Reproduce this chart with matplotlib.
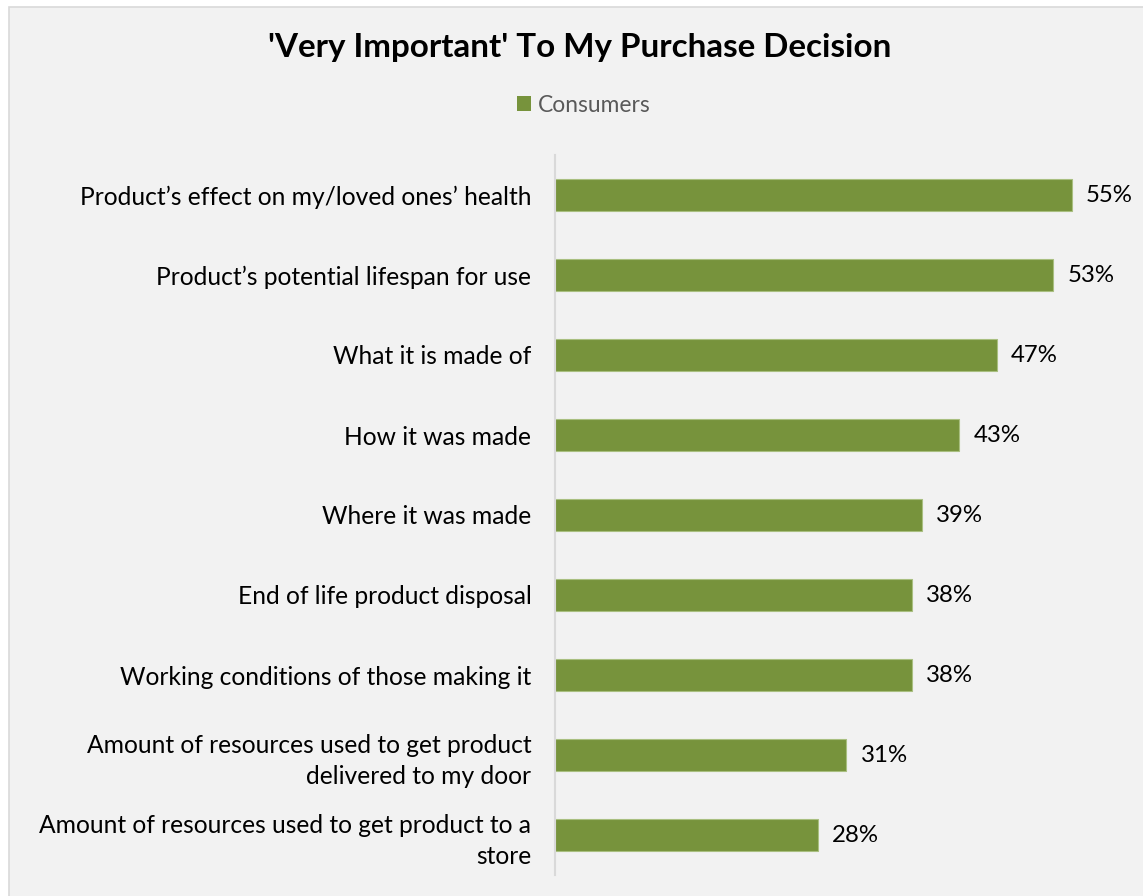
import matplotlib.pyplot as plt
from matplotlib.patches import Rectangle, Patch

# survey results, top to bottom
categories = [
    "Product\u2019s effect on my/loved ones\u2019 health",
    "Product\u2019s potential lifespan for use",
    "What it is made of",
    "How it was made",
    "Where it was made",
    "End of life product disposal",
    "Working conditions of those making it",
    "Amount of resources used to get product\ndelivered to my door",
    "Amount of resources used to get product to a\nstore",
]
consumers = [55, 53, 47, 43, 39, 38, 38, 31, 28]

bar_color = "#77933c"
plt.rcParams["font.family"] = ["Lato", "DejaVu Sans"]

fig = plt.figure(figsize=(11.43, 8.96), dpi=100, facecolor="white")

# gray chart panel with light border
panel = Rectangle((9 / 1143, -0.01), 1.2, 1 - 7 / 896 + 0.01,
                  transform=fig.transFigure, facecolor="#f2f2f2",
                  edgecolor="#d9d9d9", linewidth=1.2, zorder=-10)
fig.patches.append(panel)

ax = fig.add_axes([555 / 1143, 1 - 875 / 896, (1135 - 555) / 1143, (875 - 155) / 896])
ax.set_facecolor("none")

y = list(range(len(categories)))
ax.barh(y, consumers, height=0.4, color=bar_color, edgecolor="#a9bf80", linewidth=0.8)
ax.set_ylim(len(categories) - 0.5, -0.5)
ax.set_xlim(0, (1135 - 555) / 9.4)

for yi, v in zip(y, consumers):
    ax.text(v + 1.5, yi, f"{v}%", va="center", ha="left", fontsize=17.3, color="black")

ax.set_yticks(y)
ax.set_yticklabels(categories, fontsize=17.7, color="black", linespacing=1.4)
ax.tick_params(axis="y", length=0, pad=17)
ax.set_xticks([])
for side in ["top", "right", "bottom"]:
    ax.spines[side].set_visible(False)
ax.spines["left"].set_color("#d9d9d9")
ax.spines["left"].set_linewidth(1.5)

fig.text(580 / 1143, 1 - 47 / 896, "'Very Important' To My Purchase Decision",
         ha="center", va="center", fontsize=23.9, fontweight="bold", color="black")

fig.legend(handles=[Patch(facecolor=bar_color, label="Consumers")],
           loc="center", bbox_to_anchor=(584 / 1143, 1 - 105 / 896),
           frameon=False, fontsize=16.4, labelcolor="#595959",
           handlelength=0.6, handleheight=0.6, handletextpad=0.3)

fig.savefig("out.png", dpi=100, facecolor=fig.get_facecolor())
